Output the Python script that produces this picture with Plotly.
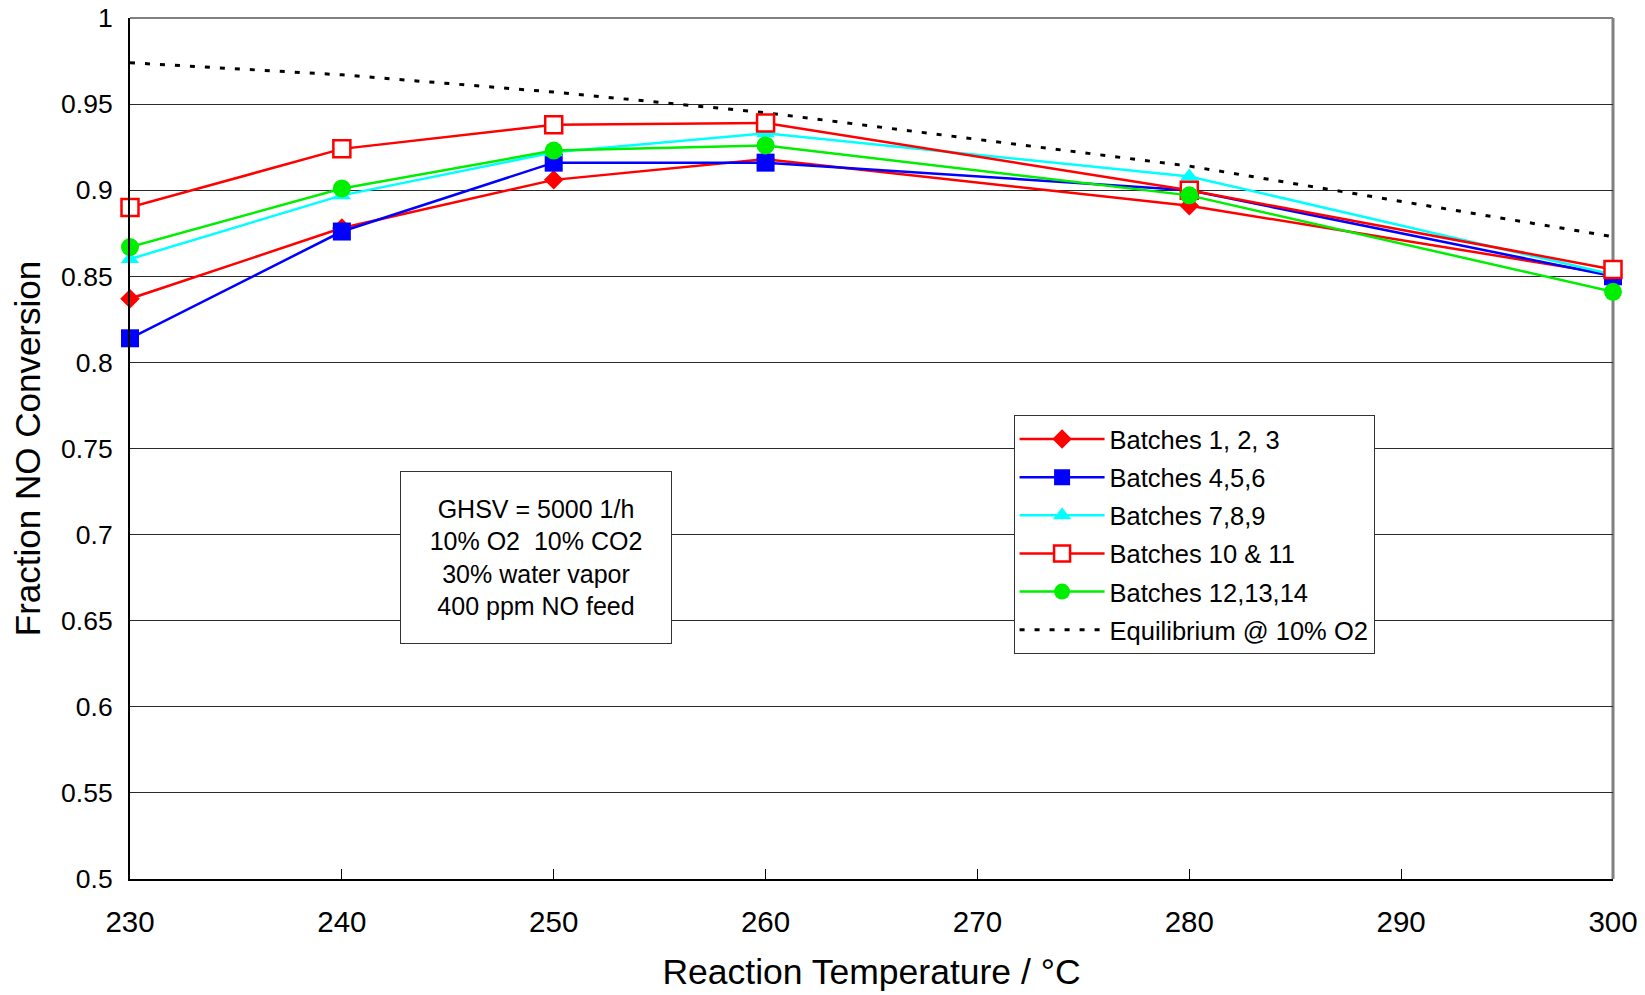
import plotly.graph_objects as go

# ---- data ----
temps = [230, 240, 250, 260, 280, 300]
batches_1_2_3 = [0.837, 0.878, 0.906, 0.918, 0.891, 0.851]
batches_4_5_6 = [0.814, 0.876, 0.916, 0.916, 0.900, 0.850]
batches_7_8_9 = [0.860, 0.897, 0.922, 0.933, 0.908, 0.851]
batches_10_11 = [0.890, 0.924, 0.938, 0.939, 0.900, 0.854]
batches_12_13_14 = [0.867, 0.901, 0.923, 0.926, 0.897, 0.841]
equilibrium = [0.974, 0.967, 0.957, 0.945, 0.914, 0.873]

y_tickvals = [0.5, 0.55, 0.6, 0.65, 0.7, 0.75, 0.8, 0.85, 0.9, 0.95, 1.0]
y_ticktext = ["0.5", "0.55", "0.6", "0.65", "0.7", "0.75", "0.8", "0.85", "0.9", "0.95", "1"]
x_tickvals = [230, 240, 250, 260, 270, 280, 290, 300]

series_names = ["Batches 1, 2, 3", "Batches 4,5,6", "Batches 7,8,9",
                "Batches 10 & 11", "Batches 12,13,14", "Equilibrium @ 10% O2"]
annotation_lines = ["GHSV = 5000 1/h", "10% O2  10% CO2", "30% water vapor", "400 ppm NO feed"]

FONT = "Liberation Sans, Arial, sans-serif"

fig = go.Figure()

# dotted equilibrium line drawn first (behind data lines), listed last in legend
fig.add_trace(go.Scatter(
    x=temps, y=equilibrium, name=series_names[5], mode="lines",
    line=dict(color="black", width=3, dash="5px,10px"),
    cliponaxis=False, legendgroup="f", legendrank=6,
))

def add(y, name, color, symbol, size, rank, lw=2.5, fill=None):
    fig.add_trace(go.Scatter(
        x=temps, y=y, name=name, mode="lines+markers",
        line=dict(color=color, width=lw),
        marker=dict(symbol=symbol, size=size, color=fill if fill else color,
                    line=dict(color=color, width=2.5 if fill else 0)),
        cliponaxis=False, legendgroup="g%d" % rank, legendrank=rank,
    ))

add(batches_1_2_3, series_names[0], "#ff0000", "diamond", 15, 1)
add(batches_4_5_6, series_names[1], "#0000ff", "square", 18, 2)
add(batches_7_8_9, series_names[2], "#00ffff", "triangle-up", 16, 3)
add(batches_10_11, series_names[3], "#ff0000", "square", 17, 4, fill="#ffffff")
add(batches_12_13_14, series_names[4], "#00ee00", "circle", 18, 5)

fig.update_layout(
    width=1637, height=987,
    margin=dict(l=122, r=32, t=10, b=116, autoexpand=False),
    paper_bgcolor="white", plot_bgcolor="white",
    font=dict(family=FONT, color="black"),
    showlegend=True,
    legend=dict(
        x=0.5958, y=0.539, xanchor="left", yanchor="top",
        bgcolor="white", bordercolor="#333333", borderwidth=1,
        font=dict(size=25.5, family=FONT, color="black"),
        itemwidth=85, tracegroupgap=2, traceorder="grouped",
    ),
    xaxis=dict(
        range=[230, 300], tickvals=x_tickvals, ticks="inside", ticklen=10,
        tickcolor="black", showline=True, linecolor="black", linewidth=2,
        showgrid=False, zeroline=False, automargin=False,
        ticklabeloverflow="allow",
        tickfont=dict(size=29.5, family=FONT, color="black"),
        ticklabelstandoff=16,
        title=dict(text="Reaction Temperature / °C",
                   font=dict(size=35.5, family=FONT, color="black"), standoff=22),
    ),
    yaxis=dict(
        range=[0.5, 1.0], tickvals=y_tickvals, ticktext=y_ticktext,
        ticks="", showline=True, linecolor="black", linewidth=2,
        showgrid=True, gridcolor="#2a2a2a", gridwidth=1, zeroline=False,
        automargin=False, ticklabeloverflow="allow",
        tickfont=dict(size=26.5, family=FONT, color="black"),
        ticklabelstandoff=10,
        title=dict(text="Fraction NO Conversion",
                   font=dict(size=35, family=FONT, color="black"), standoff=10),
    ),
    shapes=[
        dict(type="line", xref="paper", yref="paper", x0=0, x1=1, y0=1, y1=1,
             line=dict(color="#808080", width=2), layer="below"),
        dict(type="line", xref="paper", yref="paper", x0=1, x1=1, y0=0, y1=1,
             line=dict(color="#808080", width=3), layer="below"),
    ],
    annotations=[
        dict(xref="paper", yref="paper", x=0.274, y=0.373,
             xanchor="center", yanchor="middle",
             text="<br>".join(annotation_lines), showarrow=False, align="center",
             font=dict(size=25, family=FONT, color="black"),
             bgcolor="white", bordercolor="#333333", borderwidth=1,
             width=266, height=167, borderpad=2),
    ],
)

fig.write_html("out.html")
